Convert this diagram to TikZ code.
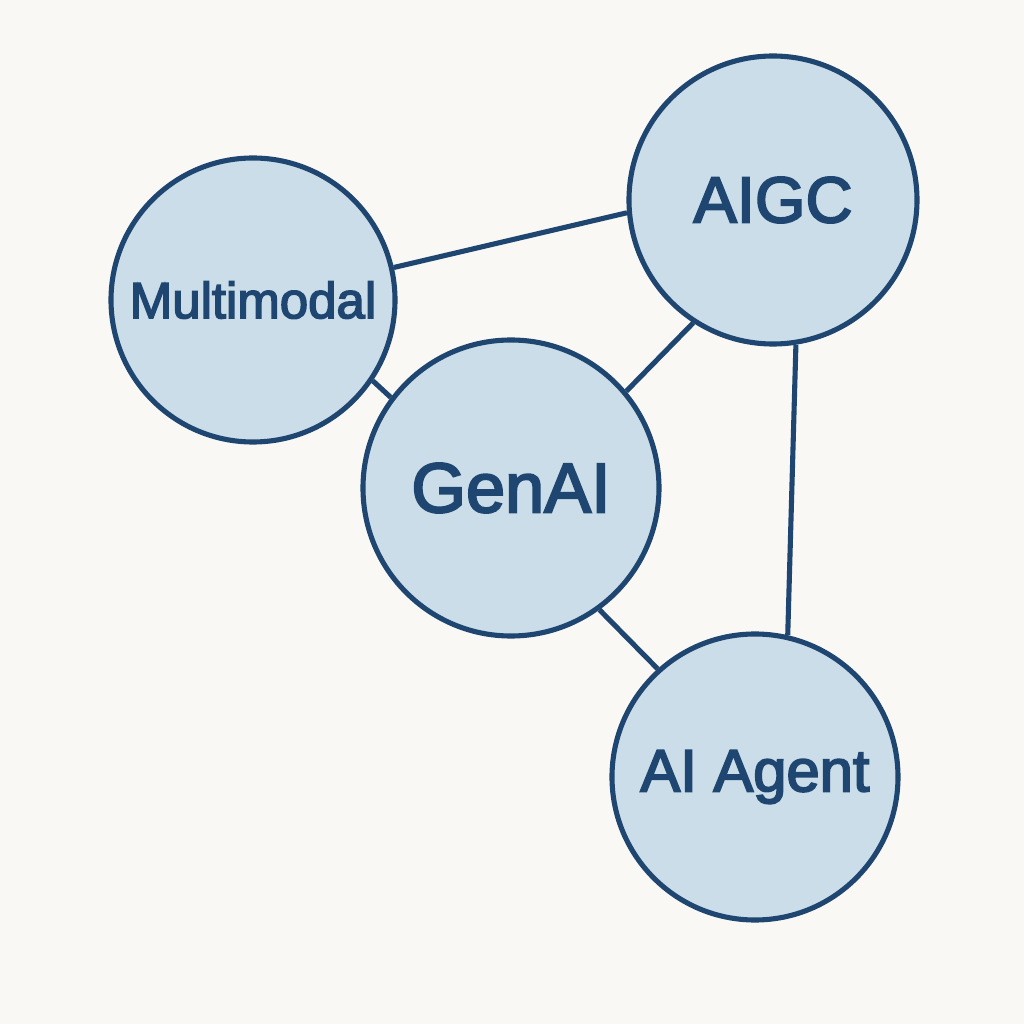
\documentclass[tikz,border=0pt]{standalone}
\usepackage{fontspec}
\setmainfont{Liberation Sans}
\newfontfamily\topicfont{Liberation Sans}[FakeBold=3]
\definecolor{bgcream}{HTML}{FAF8F5}
\definecolor{topicfill}{HTML}{CADDE8}
\definecolor{topicline}{HTML}{1F4670}
\begin{document}
\begin{tikzpicture}[
  topic/.style={circle, draw=topicline, fill=topicfill, line width=1.45pt, inner sep=0pt, text=topicline},
  link/.style={draw=topicline, line width=1.45pt}]
  % background
  \fill[bgcream] (0,0) rectangle (10.24,10.24);
  \useasboundingbox (0,0) rectangle (10.24,10.24);
  % Multimodal
  \node[topic, minimum size=2.84cm, font=\topicfont\fontsize{14.5}{18}\selectfont] (mm) at (2.53,7.24) {Multimodal};
  % AIGC
  \node[topic, minimum size=2.88cm, font=\topicfont\fontsize{18.5}{22}\selectfont] (aigc) at (7.73,8.24) {AIGC};
  % GenAI
  \node[topic, minimum size=2.96cm, font=\topicfont\fontsize{20}{24}\selectfont] (genai) at (5.11,5.36) {GenAI};
  % AI Agent
  \node[topic, minimum size=2.86cm, font=\topicfont\fontsize{17}{20}\selectfont] (agent) at (7.55,2.47) {AI Agent};
  % links
  \draw[link] (mm.13) -- (aigc.185);
  \draw[link] (mm.-34) -- (genai.143);
  \draw[link] (genai.40) -- (aigc.237);
  \draw[link] (genai.-54) -- (agent.132);
  \draw[link] (aigc.-81) -- (agent.77);
\end{tikzpicture}
\end{document}
